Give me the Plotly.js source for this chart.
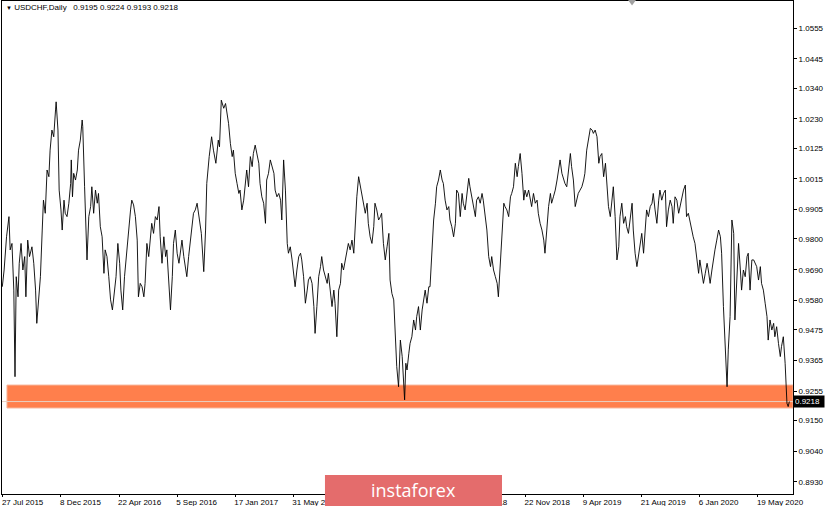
<!DOCTYPE html>
<html><head><meta charset="utf-8">
<script src="https://cdn.plot.ly/plotly-3.0.1.min.js"></script>
<style>html,body{margin:0;padding:0;background:#fff}#chart{width:825px;height:506px}</style>
</head><body><div id="chart"></div>
<script>
// ---- data ----
const symbolTitle = "USDCHF,Daily";
const lastBarOHLC = [0.9195, 0.9224, 0.9193, 0.9218];
const lastPrice = 0.9218;
const supportZone = [0.9195, 0.9277];

const tradingDay = [
 -1,2,6,10,12,15,18,20,22,25, 27,30,33,36,38,41,44,48,51,54, 56,59,62,65,67,70,73,76,78,81,
 84,87,88,91,93,96,98,101,103,106, 109,112,113,115,117,120,123,125,128,131, 132,135,137,139,142,145,147,150,153,156,
 158,161,164,167,169,172,175,178,181,184, 187,190,193,195,198,201,204,206,211,213, 216,219,222,224,227,230,233,235,238,241,
 244,246,249,252,255,258,260,263,266,269, 271,274,277,280,282,285,288,291,293,296, 299,302,304,307,310,313,315,318,321,
 328,332,335,337,341,345,348,352,356,358, 361,365,368,370,373,376,379,381,384,387, 390,392,395,398,401,403,406,409,412,414,
 417,420,423,425,428,431,434,436,439,442, 445,448,450,453,456,459,461,464,467,470, 472,475,478,481,483,486,489,492,494,497,
 500,503,505,508,511,514,516,519,522,525, 527,530,533,536,538,541,544,547,549,552, 555,558,560,563,566,569,571,574,577,580,
 582,585,588,591,593,596,599,602,604,607, 610,613,615,618,621,624,626,629,632,635, 638,640,643,646,649,
 651,654,657,660,662,664,666,668,671,673, 676,679,682,684,687,690,693,695,698,701, 704,706,709,712,715,717,720,723,726,728,
 731,734,737,739,742,745,748,750,753,756, 759,761,764,767,770,772,775,778,781,783, 786,789,792,794,797,800,803,806,808,811,
 814,817,819,822,825,828,830,833,836,839, 841,844,847,850,852,855,858,861,863,866, 869,872,874,877,880,883,885,888,891,894,
 896,899,902,905,907,910,913,916,918,921, 924,927,929,932,935,938,940,943,946,949, 951,954,957,960,962,965,968,971,974,976,
 979,982,985,987,990,993,996,998,1001,1004, 1007,1009,1012,1015,1018,1020,1023,1026,1029,1031, 1034,1037,1040,1042,1045,1048,1051,1053,1056,1059,
 1062,1064,1067,1070,1073,1075,1078,1081,1084,1086, 1089,1092,1095,1097,1100,1103,1106,1108,1111,1114, 1117,1119,1122,1125,1128,1130,1133,1136,1139,1141,
 1144,1147,1150,1152,1155,1158,1161,1164,1166,1169, 1172,1175,1177,1180,1183,1186,1188,1191,1194,1197, 1199,1202,1205,1208,1210,1213,1216,1219,1221,1224,
 1227,1230,1232,1235,1238,1241,1243,1246,1249,1252, 1254,1257,1260,1263,1265,1268,1271,1274,1276,1279, 1282,1285,1287,1290,1293,1296,1298,1300
];

const closePrice = [
 0.9629,0.9689,0.9808,0.9880,0.9761,0.9784,0.9617,0.9307,0.9665,0.9593, 0.9713,0.9784,0.9689,0.9737,0.9593,0.9796,0.9737,0.9772,0.9713,0.9617,
 0.9498,0.9570,0.9665,0.9832,0.9939,0.9892,1.0047,1.0023,1.0118,1.0190, 1.0166,1.0262,1.0291,1.0190,0.9975,0.9904,0.9832,0.9939,0.9892,0.9880,
 0.9928,0.9999,1.0083,0.9951,1.0035,1.0011,1.0047,1.0118,1.0154,1.0226, 1.0202,0.9987,0.9856,0.9725,0.9880,0.9916,0.9987,0.9892,0.9975,0.9928,
 0.9963,0.9844,0.9808,0.9677,0.9761,0.9737,0.9665,0.9582,0.9546,0.9617, 0.9665,0.9784,0.9713,0.9617,0.9546,0.9665,0.9737,0.9808,0.9904,0.9939,
 0.9922,0.9880,0.9796,0.9593,0.9641,0.9629,0.9593,0.9641,0.9784,0.9737, 0.9808,0.9856,0.9820,0.9880,0.9868,0.9916,0.9808,0.9713,0.9808,0.9737,
 0.9761,0.9629,0.9546,0.9665,0.9784,0.9832,0.9749,0.9713,0.9749,0.9796, 0.9737,0.9701,0.9665,0.9737,0.9796,0.9856,0.9892,0.9904,0.9928,
 0.9820,0.9683,0.9832,0.9999,1.0095,1.0166,1.0118,1.0071,1.0154,1.0130, 1.0297,1.0268,1.0285,1.0262,1.0214,1.0142,1.0095,1.0118,1.0035,0.9999,
 0.9963,0.9975,0.9904,0.9939,0.9999,1.0047,0.9987,1.0095,1.0059,1.0106, 1.0136,1.0095,1.0071,0.9999,0.9951,0.9928,0.9856,1.0011,1.0035,1.0083,
 1.0059,1.0035,0.9975,0.9951,0.9963,0.9939,0.9868,1.0083,0.9975,0.9784, 0.9749,0.9772,0.9725,0.9677,0.9629,0.9689,0.9737,0.9749,0.9725,0.9665,
 0.9570,0.9617,0.9653,0.9665,0.9641,0.9558,0.9462,0.9558,0.9665,0.9701, 0.9737,0.9689,0.9665,0.9641,0.9677,0.9617,0.9558,0.9617,0.9570,0.9450,
 0.9617,0.9641,0.9713,0.9689,0.9725,0.9749,0.9784,0.9761,0.9796,0.9749, 0.9856,0.9951,1.0023,0.9987,0.9975,0.9939,0.9892,0.9928,0.9856,0.9808,
 0.9784,0.9844,0.9928,0.9904,0.9868,0.9880,0.9892,0.9784,0.9725,0.9772, 0.9820,0.9653,0.9605,0.9582,0.9438,
 0.9343,0.9271,0.9438,0.9379,0.9319,0.9224,0.9355,0.9331,0.9391,0.9426, 0.9450,0.9510,0.9474,0.9522,0.9558,0.9474,0.9546,0.9570,0.9617,0.9570,
 0.9629,0.9629,0.9749,0.9868,0.9928,0.9987,1.0011,1.0047,1.0011,0.9999, 0.9939,0.9904,0.9916,0.9868,0.9844,0.9808,0.9856,0.9975,0.9963,0.9880,
 0.9963,0.9928,0.9904,0.9951,1.0017,0.9987,0.9951,0.9928,0.9880,0.9939, 0.9951,0.9928,0.9963,0.9939,0.9880,0.9832,0.9737,0.9701,0.9737,0.9689,
 0.9665,0.9641,0.9593,0.9713,0.9832,0.9928,0.9916,0.9904,0.9880,0.9951, 0.9963,0.9987,1.0071,1.0023,1.0059,1.0106,1.0035,0.9939,0.9975,0.9951,
 0.9975,0.9939,0.9916,0.9963,0.9928,0.9939,0.9892,0.9856,0.9832,0.9796, 0.9749,0.9832,0.9916,0.9963,0.9928,0.9951,0.9975,1.0011,1.0047,1.0083,
 1.0035,1.0011,0.9999,0.9987,1.0059,1.0106,1.0059,1.0011,0.9916,0.9939, 0.9963,0.9975,0.9987,1.0011,1.0035,1.0118,1.0166,1.0196,1.0190,1.0178,
 1.0190,1.0166,1.0071,1.0095,1.0106,1.0023,1.0071,0.9999,0.9916,0.9880, 0.9963,0.9987,0.9880,0.9725,0.9772,0.9880,0.9928,0.9856,0.9880,0.9844,
 0.9820,0.9880,0.9928,0.9832,0.9749,0.9701,0.9749,0.9784,0.9820,0.9749, 0.9844,0.9904,0.9880,0.9916,0.9928,0.9963,0.9904,0.9856,0.9939,0.9975,
 0.9939,0.9963,0.9975,0.9844,0.9904,0.9939,0.9916,0.9856,0.9951,0.9939, 0.9892,0.9916,0.9951,0.9975,0.9993,0.9880,0.9892,0.9856,0.9832,0.9808,
 0.9784,0.9725,0.9677,0.9725,0.9689,0.9641,0.9677,0.9713,0.9689,0.9641, 0.9689,0.9737,0.9761,0.9796,0.9832,0.9808,0.9749,0.9558,0.9403,0.9271,
 0.9403,0.9522,0.9868,0.9820,0.9510,0.9641,0.9784,0.9689,0.9617,0.9689, 0.9665,0.9737,0.9749,0.9617,0.9725,0.9725,0.9713,0.9701,0.9653,0.9701,
 0.9641,0.9617,0.9570,0.9522,0.9438,0.9510,0.9474,0.9498,0.9450,0.9486, 0.9426,0.9379,0.9415,0.9450,0.9355,0.9212,0.9200,0.9218
];

// labels visible in the reference (the ones under the watermark are hidden there)
const dateTickDays = [0,96,192,288,384,480,768,864,960,1056,1152,1248];
const dateTickLabels = ["27 Jul 2015","8 Dec 2015","22 Apr 2016","5 Sep 2016","17 Jan 2017","31 May 2017",
  "11 Jul 2018","22 Nov 2018","9 Apr 2019","21 Aug 2019","6 Jan 2020","19 May 2020"];
const priceTickLabels = ["1.0555","1.0445","1.0340","1.0230","1.0125","1.0015","0.9905","0.9800",
  "0.9690","0.9580","0.9475","0.9365","0.9255","0.9150","0.9040","0.8930"];
const watermarkText = "instaforex";

// ---- chart ----
const FONT = "'Liberation Sans', Arial, sans-serif";
const trace = {
  x: tradingDay, y: closePrice, type: 'scatter', mode: 'lines',
  line: {color: '#000', width: 0.9}, hoverinfo: 'skip'
};

const layout = {
  width: 825, height: 506,
  margin: {l: 2, r: 32, t: 1, b: 12, pad: 0},
  paper_bgcolor: '#fff', plot_bgcolor: '#fff',
  showlegend: false,
  font: {family: FONT, size: 8, color: '#000'},
  xaxis: {
    range: [-1.5, 1306], tickmode: 'array', tickvals: dateTickDays, ticktext: dateTickLabels,
    ticks: 'outside', ticklen: 2, tickcolor: '#000', ticklabelposition: 'outside right', ticklabelshift: -2,
    showgrid: false, zeroline: false, showline: true, linecolor: '#000', linewidth: 1, mirror: true,
    tickfont: {family: FONT, size: 8, color: '#000'}, fixedrange: true
  },
  yaxis: {
    side: 'right', range: [0.8887, 1.0652], tickmode: 'array',
    tickvals: priceTickLabels.map(Number), ticktext: priceTickLabels,
    ticks: 'outside', ticklen: 3, tickcolor: '#000',
    showgrid: false, zeroline: false, showline: true, linecolor: '#000', linewidth: 1, mirror: true,
    tickfont: {family: FONT, size: 8, color: '#000'}, fixedrange: true
  },
  shapes: [
    {type: 'rect', xref: 'paper', yref: 'y', x0: 0.0063, x1: 1, y0: supportZone[0], y1: supportZone[1],
     fillcolor: '#FF7F4C', line: {color: '#F7B397', width: 1}, layer: 'below'},
    {type: 'line', xref: 'paper', yref: 'y', x0: 0, x1: 1, y0: lastPrice, y1: lastPrice,
     line: {color: '#E9CFC0', width: 1}, layer: 'below'},
    {type: 'path', xref: 'paper', yref: 'paper', path: 'M 0.7915 1.002 L 0.8015 1.002 L 0.7965 0.991 Z',
     fillcolor: '#A0A0A0', line: {width: 0}, layer: 'above'},
    {type: 'rect', xref: 'paper', yref: 'paper', x0: 0.4083, x1: 0.6321, y0: -0.03, y1: 0.0385,
     fillcolor: '#E46C6C', line: {width: 0}, layer: 'above'}
  ],
  annotations: [
    {xref: 'paper', yref: 'paper', x: 0.0025, y: 1, xanchor: 'left', yanchor: 'top', showarrow: false,
     text: '<span style="font-size:6px">▼</span> ' + symbolTitle + '\u00a0\u00a0 ' + lastBarOHLC.map(v => v.toFixed(4)).join(' '),
     font: {family: FONT, size: 8, color: '#000'}},
    {xref: 'paper', yref: 'y', x: 1, y: lastPrice, xanchor: 'left', yanchor: 'middle', showarrow: false,
     text: lastPrice.toFixed(4), font: {family: FONT, size: 8, color: '#fff'},
     bgcolor: '#000', borderpad: 1, width: 28, align: 'left'},
    {xref: 'paper', yref: 'paper', x: 0.5196, y: 0.0081, xanchor: 'center', yanchor: 'middle', showarrow: false,
     text: watermarkText, font: {family: "'Open Sans', sans-serif", size: 18, color: '#fff'}}
  ]
};

Plotly.newPlot('chart', [trace], layout, {displayModeBar: false, staticPlot: true});
</script>
</body></html>
